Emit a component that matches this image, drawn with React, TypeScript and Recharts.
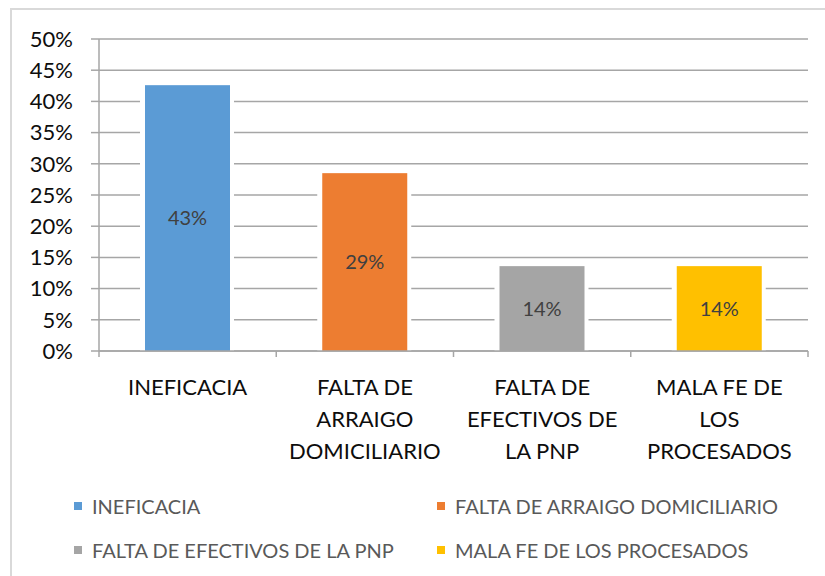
import React from 'react';
import { BarChart, Bar, XAxis, YAxis, CartesianGrid, Cell, LabelList, Legend } from 'recharts';

const categories = [
  'INEFICACIA',
  'FALTA DE ARRAIGO DOMICILIARIO',
  'FALTA DE EFECTIVOS DE LA PNP',
  'MALA FE DE LOS PROCESADOS',
];
const categoryLines = [
  ['INEFICACIA'],
  ['FALTA DE', 'ARRAIGO', 'DOMICILIARIO'],
  ['FALTA DE', 'EFECTIVOS DE', 'LA PNP'],
  ['MALA FE DE', 'LOS', 'PROCESADOS'],
];
const values = [42.6, 28.5, 13.6, 13.6];
const valueLabels = ['43%', '29%', '14%', '14%'];
const yTicks = [0, 5, 10, 15, 20, 25, 30, 35, 40, 45, 50];
const colors = ['#5b9bd5', '#ed7d31', '#a5a5a5', '#ffc000'];

const data = categories.map((c, i) => ({ name: c, value: values[i], label: valueLabels[i], idx: i }));

const FONT = 'Lato, "Liberation Sans", sans-serif';
const GRID = '#a6a6a6';

const XTick = (props: any) => {
  const { x, y, payload, index, visibleTicksCount, width } = props;
  const half = payload && payload.offset ? payload.offset : width / visibleTicksCount / 2;
  const lines = categoryLines[index] || [String(payload.value)];
  return (
    <g>
      <line x1={x - half} x2={x - half} y1={y} y2={y + 6} stroke={GRID} strokeWidth={1.5} />
      {index === visibleTicksCount - 1 && (
        <line x1={x + half} x2={x + half} y1={y} y2={y + 6} stroke={GRID} strokeWidth={1.5} />
      )}
      <text x={x} y={y} textAnchor="middle" fill="#0d0d0d" fontSize={22} fontFamily={FONT}>
        {lines.map((l: string, i: number) => (
          <tspan key={i} x={x} y={y + 44 + i * 32}>
            {l}
          </tspan>
        ))}
      </text>
    </g>
  );
};

const BarShape = (p: any) => {
  if (!p.height) return null;
  return (
    <g>
      <rect x={p.x - 5} y={p.y} width={p.width + 9} height={p.height} fill="#ffffff" />
      <rect x={p.x} y={p.y} width={p.width} height={p.height} fill={p.fill} />
    </g>
  );
};

const LegendContent = () => {
  const cols = [74, 437];
  const rows = [506, 550];
  return (
    <div style={{ position: 'relative', width: 825, height: 96 }}>
      {categories.map((c, i) => {
        const cx = cols[i % 2];
        const cy = rows[Math.floor(i / 2)] - 480;
        return (
          <div key={c}>
            <div
              style={{
                position: 'absolute',
                left: cx,
                top: cy - 4,
                width: 8,
                height: 8,
                background: colors[i],
              }}
            />
            <div
              style={{
                position: 'absolute',
                left: cx + 18,
                top: cy - 14,
                height: 28,
                lineHeight: '28px',
                fontFamily: FONT,
                fontSize: 20,
                color: '#595959',
                whiteSpace: 'nowrap',
              }}
            >
              {c}
            </div>
          </div>
        );
      })}
    </div>
  );
};

export default function App() {
  return (
    <div style={{ position: 'absolute', left: 0, top: 0, width: 825, height: 576, background: '#fff', overflow: 'hidden' }}>
      <div
        style={{
          position: 'absolute',
          left: 10,
          top: 8,
          width: 900,
          height: 700,
          borderLeft: '2px solid #d9d9d9',
          borderTop: '2px solid #d9d9d9',
        }}
      />
      <BarChart
        width={825}
        height={576}
        data={data}
        margin={{ top: 39, right: 17, bottom: 0, left: 0 }}
        style={{ position: 'absolute', left: 0, top: 0, fontFamily: FONT }}
      >
        <CartesianGrid vertical={false} stroke={GRID} strokeWidth={1.5} />
        <XAxis
          dataKey="name"
          tick={<XTick />}
          tickLine={false}
          tickSize={0}
          tickMargin={0}
          axisLine={{ stroke: GRID, strokeWidth: 1.5 }}
          interval={0}
          height={225}
        />
        <YAxis
          domain={[0, 50]}
          ticks={yTicks}
          width={99}
          tickSize={8}
          tickMargin={18}
          tickFormatter={(v: number) => `${v}%`}
          tick={{ fontSize: 22, fill: '#0d0d0d', fontFamily: FONT }}
          tickLine={{ stroke: GRID, strokeWidth: 1.5 }}
          axisLine={{ stroke: GRID, strokeWidth: 1.5 }}
          interval={0}
        />
        <Legend
          layout="vertical"
          align="center"
          verticalAlign="middle"
          wrapperStyle={{ left: 0, top: 480, width: 825, height: 96 }}
          content={<LegendContent />}
        />
        <Bar dataKey="value" barSize={85} isAnimationActive={false} shape={<BarShape />}>
          {data.map((d, i) => (
            <Cell key={d.name} fill={colors[i]} />
          ))}
          <LabelList
            dataKey="label"
            position="center"
            fill="#404040"
            fontSize={20}
            fontFamily={FONT}
          />
        </Bar>
      </BarChart>
    </div>
  );
}
